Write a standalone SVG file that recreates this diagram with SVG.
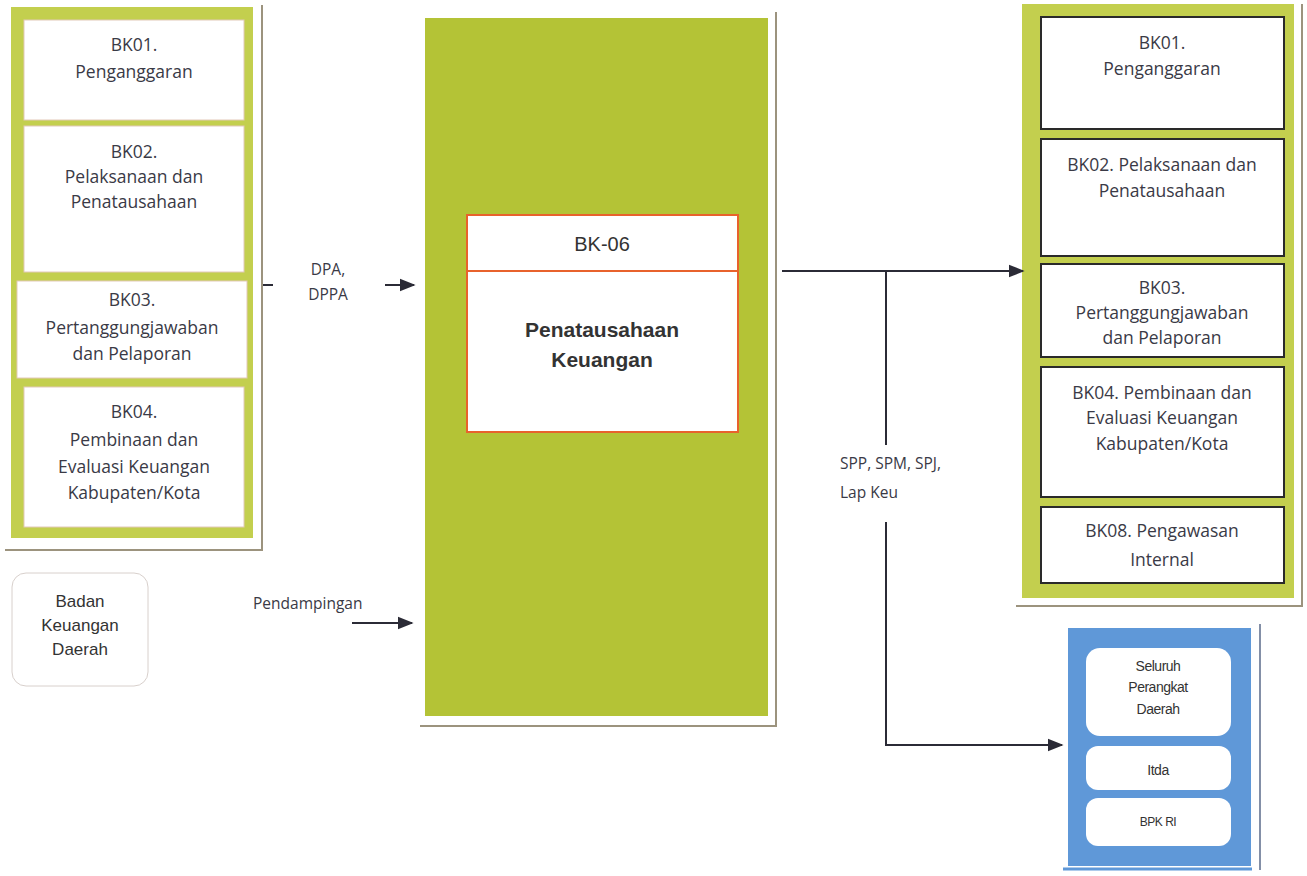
<svg xmlns="http://www.w3.org/2000/svg" width="1307" height="876" viewBox="0 0 1307 876">
  <defs>
    <marker id="arrowL" viewBox="0 0 10 10" refX="9" refY="5" markerWidth="16" markerHeight="16" markerUnits="userSpaceOnUse" orient="auto">
      <path d="M0,1 L10,5 L0,9 z" fill="#2b2b36"/>
    </marker>
  </defs>
  <style>
    .panel { fill: #c3cf4e; }
    .core { fill: #b4c336; }
    .shadow { stroke: #9c937e; stroke-width: 2; fill: none; }
    .wbox { fill: #ffffff; stroke: #e2c9b8; stroke-width: 1; }
    .kbox { fill: #ffffff; stroke: #2a2a2a; stroke-width: 2; }
    .cal { font-family: "Open Sans", "Liberation Sans", sans-serif; font-size: 17.5px; fill: #3a3a46; text-anchor: middle; }
    .lbl { font-family: "Open Sans", "Liberation Sans", sans-serif; font-size: 15.5px; fill: #3a3a46; }
    .ar { font-family: "Liberation Sans", Arial, sans-serif; fill: #333333; text-anchor: middle; }
    .line { stroke: #2b2b36; stroke-width: 2; fill: none; }
  </style>

  <!-- Left unit panel -->
  <g id="left-panel">
    <rect class="panel" x="11" y="7" width="242" height="531"/>
    <path class="shadow" d="M262,5 V550 H5"/>
  </g>
  <g id="left-bk01">
    <rect class="wbox" x="24" y="20" width="220" height="100"/>
    <text class="cal" x="134" y="51">BK01.</text>
    <text class="cal" x="134" y="78">Penganggaran</text>
  </g>
  <g id="left-bk02">
    <rect class="wbox" x="24" y="126" width="220" height="146"/>
    <text class="cal" x="134" y="158">BK02.</text>
    <text class="cal" x="134" y="183">Pelaksanaan dan</text>
    <text class="cal" x="134" y="208">Penatausahaan</text>
  </g>
  <g id="left-bk03">
    <rect class="wbox" x="17" y="281" width="230" height="97"/>
    <text class="cal" x="132" y="306">BK03.</text>
    <text class="cal" x="132" y="334">Pertanggungjawaban</text>
    <text class="cal" x="132" y="360">dan Pelaporan</text>
  </g>
  <g id="left-bk04">
    <rect class="wbox" x="24" y="387" width="220" height="140"/>
    <text class="cal" x="134" y="418">BK04.</text>
    <text class="cal" x="134" y="446">Pembinaan dan</text>
    <text class="cal" x="134" y="473">Evaluasi Keuangan</text>
    <text class="cal" x="134" y="499">Kabupaten/Kota</text>
  </g>

  <!-- Supporting agency -->
  <g id="bkd">
    <rect x="12" y="573" width="136" height="113" rx="14" fill="#ffffff" stroke="#d8d0cc" stroke-width="1"/>
    <text class="ar" x="80" y="607" font-size="17">Badan</text>
    <text class="ar" x="80" y="631" font-size="17">Keuangan</text>
    <text class="ar" x="80" y="655" font-size="17">Daerah</text>
  </g>

  <!-- Central unit -->
  <g id="center-panel">
    <rect class="core" x="425" y="18" width="343" height="698"/>
    <path class="shadow" d="M776,12 V726 H420"/>
  </g>
  <g id="bk06">
    <rect x="467" y="215" width="271" height="217" fill="#ffffff" stroke="#e8622c" stroke-width="2"/>
    <line x1="467" y1="271" x2="738" y2="271" stroke="#e8622c" stroke-width="2"/>
    <text class="ar" x="602" y="251" font-size="20">BK-06</text>
    <text class="ar" x="602" y="337" font-size="21" font-weight="bold">Penatausahaan</text>
    <text class="ar" x="602" y="367" font-size="21" font-weight="bold">Keuangan</text>
  </g>

  <!-- Right recipient panel -->
  <g id="right-panel">
    <rect class="panel" x="1022" y="4" width="272" height="594"/>
    <path class="shadow" d="M1302,4 V606 H1016"/>
  </g>
  <g id="right-bk01">
    <rect class="kbox" x="1041" y="17" width="243" height="112"/>
    <text class="cal" x="1162" y="49">BK01.</text>
    <text class="cal" x="1162" y="75">Penganggaran</text>
  </g>
  <g id="right-bk02">
    <rect class="kbox" x="1041" y="139" width="243" height="117"/>
    <text class="cal" x="1162" y="171">BK02. Pelaksanaan dan</text>
    <text class="cal" x="1162" y="197">Penatausahaan</text>
  </g>
  <g id="right-bk03">
    <rect class="kbox" x="1041" y="264" width="243" height="93"/>
    <text class="cal" x="1162" y="294">BK03.</text>
    <text class="cal" x="1162" y="319">Pertanggungjawaban</text>
    <text class="cal" x="1162" y="344">dan Pelaporan</text>
  </g>
  <g id="right-bk04">
    <rect class="kbox" x="1041" y="367" width="243" height="130"/>
    <text class="cal" x="1162" y="399">BK04. Pembinaan dan</text>
    <text class="cal" x="1162" y="424">Evaluasi Keuangan</text>
    <text class="cal" x="1162" y="450">Kabupaten/Kota</text>
  </g>
  <g id="right-bk08">
    <rect class="kbox" x="1041" y="507" width="243" height="76"/>
    <text class="cal" x="1162" y="537">BK08. Pengawasan</text>
    <text class="cal" x="1162" y="566">Internal</text>
  </g>

  <!-- External recipients -->
  <g id="blue-panel">
    <rect x="1068" y="628" width="183" height="238" fill="#5f98d8"/>
    <path d="M1260,624 V870" stroke="#5a6a8a" stroke-width="1.5" fill="none"/>
    <path d="M1063,869 H1252" stroke="#5f98d8" stroke-width="3" fill="none"/>
  </g>
  <g id="seluruh-pd">
    <rect x="1086" y="648" width="145" height="88" rx="14" fill="#ffffff"/>
    <text class="ar" x="1158" y="671" font-size="14" letter-spacing="-0.5">Seluruh</text>
    <text class="ar" x="1158" y="692" font-size="14" letter-spacing="-0.5">Perangkat</text>
    <text class="ar" x="1158" y="714" font-size="14" letter-spacing="-0.5">Daerah</text>
  </g>
  <g id="itda">
    <rect x="1086" y="746" width="145" height="44" rx="12" fill="#ffffff"/>
    <text class="ar" x="1158" y="775" font-size="14" letter-spacing="-0.5">Itda</text>
  </g>
  <g id="bpk">
    <rect x="1086" y="798" width="145" height="48" rx="12" fill="#ffffff"/>
    <text class="ar" x="1158" y="826" font-size="12" letter-spacing="-0.5">BPK RI</text>
  </g>

  <!-- Connectors and flow labels -->
  <g id="connectors">
    <line class="line" x1="263" y1="285" x2="273" y2="285"/>
    <line class="line" x1="385" y1="285" x2="414" y2="285" marker-end="url(#arrowL)"/>
    <line class="line" x1="352" y1="623" x2="412" y2="623" marker-end="url(#arrowL)"/>
    <line class="line" x1="782" y1="271" x2="1023" y2="271" marker-end="url(#arrowL)"/>
    <line class="line" x1="886" y1="271" x2="886" y2="445"/>
    <path class="line" d="M886,522 V745 H1062" marker-end="url(#arrowL)"/>
    <text class="lbl" x="328" y="275" text-anchor="middle">DPA,</text>
    <text class="lbl" x="328" y="300" text-anchor="middle">DPPA</text>
    <text class="lbl" x="253" y="609">Pendampingan</text>
    <text class="lbl" x="840" y="469">SPP, SPM, SPJ,</text>
    <text class="lbl" x="840" y="498">Lap Keu</text>
  </g>
</svg>
